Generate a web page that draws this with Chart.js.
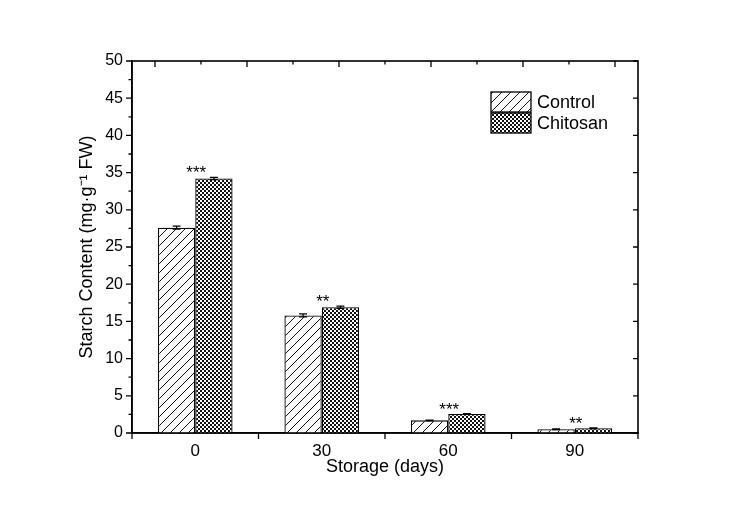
<!DOCTYPE html>
<html><head><meta charset="utf-8">
<script src="https://cdn.jsdelivr.net/npm/chart.js@4.4.1/dist/chart.umd.min.js"></script>
<style>html,body{margin:0;padding:0;background:#fff;}</style>
</head><body>
<canvas id="c" width="742" height="520"></canvas>
<script>
const categories = ['0', '30', '60', '90'];
const seriesNames = ['Control', 'Chitosan'];
const controlValues = [27.6, 15.8, 1.7, 0.5];
const chitosanValues = [34.2, 16.9, 2.55, 0.65];
const controlErrors = [0.2, 0.2, 0.05, 0.05];
const chitosanErrors = [0.15, 0.15, 0.05, 0.05];
const significance = ['***', '**', '***', '**'];
const yMin = 0, yMax = 50, yStep = 5, yMinorStep = 2.5;

const FONT = '"Liberation Sans", Arial, sans-serif';

function makeHatch() {
  const s = 9, c = document.createElement('canvas');
  c.width = s; c.height = s;
  const g = c.getContext('2d');
  g.fillStyle = '#fff'; g.fillRect(0, 0, s, s);
  g.strokeStyle = '#111'; g.lineWidth = 1;
  g.beginPath();
  g.moveTo(0, s); g.lineTo(s, 0);
  g.moveTo(-1, 1); g.lineTo(1, -1);
  g.moveTo(s - 1, s + 1); g.lineTo(s + 1, s - 1);
  g.stroke();
  return g.createPattern(c, 'repeat');
}
function makeCheck() {
  const c = document.createElement('canvas');
  c.width = 4; c.height = 4;
  const g = c.getContext('2d');
  g.fillStyle = '#111'; g.fillRect(0, 0, 4, 4);
  g.fillStyle = '#fff';
  g.fillRect(0, 0, 2, 2); g.fillRect(2, 2, 2, 2);
  return g.createPattern(c, 'repeat');
}

const decor = {
  id: 'decor',
  afterDatasetsDraw(chart) {
    const ctx = chart.ctx, y = chart.scales.y, x = chart.scales.x;
    ctx.save();
    ctx.strokeStyle = '#000'; ctx.lineWidth = 1.2;
    chart.data.datasets.forEach((ds, di) => {
      chart.getDatasetMeta(di).data.forEach((bar, i) => {
        const v = ds.data[i], e = ds.errors[i];
        const yt = y.getPixelForValue(v + e), yb = y.getPixelForValue(v - e);
        ctx.beginPath();
        ctx.moveTo(bar.x, yt); ctx.lineTo(bar.x, yb);
        ctx.moveTo(bar.x - 4, yt); ctx.lineTo(bar.x + 4, yt);
        ctx.moveTo(bar.x - 4, yb); ctx.lineTo(bar.x + 4, yb);
        ctx.stroke();
      });
    });
    ctx.fillStyle = '#000';
    ctx.font = '17px ' + FONT;
    ctx.textAlign = 'center'; ctx.textBaseline = 'alphabetic';
    significance.forEach((s, i) => {
      let top = -Infinity;
      chart.data.datasets.forEach(ds => { top = Math.max(top, ds.data[i] + ds.errors[i]); });
      ctx.fillText(s, x.getPixelForValue(i) + 1, y.getPixelForValue(top) + 1);
    });
    ctx.restore();
  },
  afterDraw(chart) {
    const ctx = chart.ctx, a = chart.chartArea, y = chart.scales.y, x = chart.scales.x, xt = chart.scales.xTop;
    ctx.save();
    ctx.strokeStyle = '#000'; ctx.lineWidth = 1.6;
    ctx.strokeRect(a.left, a.top, a.right - a.left, a.bottom - a.top);
    ctx.lineWidth = 1.3;
    ctx.beginPath();
    for (let v = yMin; v <= yMax + 1e-9; v += yMinorStep) {
      const p = y.getPixelForValue(v);
      const major = Math.abs(v / yStep - Math.round(v / yStep)) < 1e-6;
      ctx.moveTo(a.left - (major ? 6 : 3.5), p); ctx.lineTo(a.left, p);
      if (major) { ctx.moveTo(a.right - 5, p); ctx.lineTo(a.right, p); }
    }
    const n = categories.length;
    for (let i = 0; i <= n; i++) {
      let p;
      if (i === 0) p = a.left; else if (i === n) p = a.right;
      else p = (x.getPixelForValue(i - 1) + x.getPixelForValue(i)) / 2;
      ctx.moveTo(p, a.bottom); ctx.lineTo(p, a.bottom + 6);
    }
    for (let k = 0; k <= 10; k++) {
      const p = xt.getPixelForValue(k / 2);
      ctx.moveTo(p, a.top); ctx.lineTo(p, a.top + (k % 2 === 0 ? 6 : 3.5));
    }
    ctx.stroke();
    // legend
    const bw = 40, bh = 20, lx = a.right - 147, ly = a.top + 31;
    ctx.font = '18px ' + FONT; ctx.textBaseline = 'middle'; ctx.textAlign = 'left';
    chart.data.datasets.forEach((ds, i) => {
      const by = ly + i * 21;
      ctx.fillStyle = ds.backgroundColor; ctx.fillRect(lx, by, bw, bh);
      ctx.lineWidth = 1.3; ctx.strokeStyle = '#000'; ctx.strokeRect(lx, by, bw, bh);
      ctx.fillStyle = '#000'; ctx.fillText(ds.label, lx + bw + 6, by + bh / 2 + 1);
    });
    ctx.restore();
  }
};

new Chart(document.getElementById('c'), {
  type: 'bar',
  data: {
    labels: categories,
    datasets: [
      { label: seriesNames[0], data: controlValues, errors: controlErrors, backgroundColor: makeHatch(),
        borderColor: '#000', borderWidth: 1.3, categoryPercentage: 0.59, barPercentage: 1.0 },
      { label: seriesNames[1], data: chitosanValues, errors: chitosanErrors, backgroundColor: makeCheck(),
        borderColor: '#000', borderWidth: 1.3, categoryPercentage: 0.59, barPercentage: 1.0 }
    ]
  },
  plugins: [decor],
  options: {
    responsive: false, animation: false, devicePixelRatio: 1,
    layout: { padding: { left: 72, right: 104, top: 61, bottom: 38 } },
    plugins: { legend: { display: false }, tooltip: { enabled: false } },
    scales: {
      x: {
        type: 'category', offset: true,
        grid: { display: false, drawTicks: false },
        border: { display: true, color: '#000', width: 1.5 },
        ticks: { color: '#000', font: { family: FONT, size: 17 }, padding: 8 },
        title: { display: true, text: 'Storage (days)', color: '#000', font: { family: FONT, size: 18 }, padding: { top: 4, bottom: 4 } },
        afterFit(s) { s.height = 49; }
      },
      xTop: { type: 'linear', position: 'top', min: 0, max: 5, display: false },
      y: {
        min: yMin, max: yMax,
        ticks: { stepSize: yStep, color: '#000', font: { family: FONT, size: 16 }, padding: 9 },
        grid: { display: false, drawTicks: false },
        border: { display: true, color: '#000', width: 1.5 },
        title: { display: true, text: 'Starch Content (mg·g⁻¹ FW)', color: '#000', font: { family: FONT, size: 18 }, padding: { top: 4, bottom: 4 } },
        afterFit(s) { s.width = 60; }
      }
    }
  }
});
</script>
</body></html>
